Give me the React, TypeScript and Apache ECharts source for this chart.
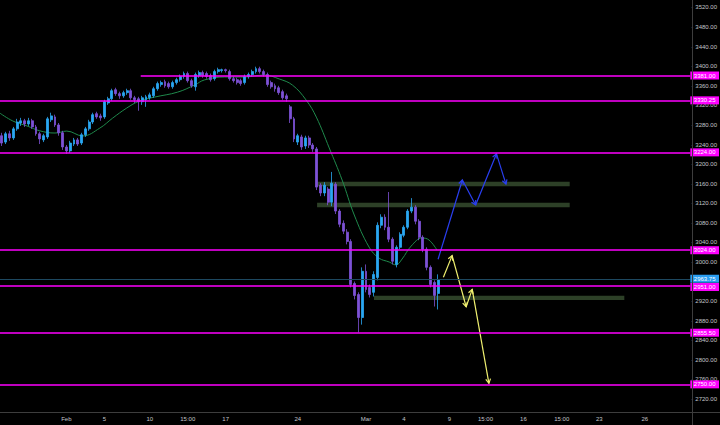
import React, { useEffect, useRef } from 'react';
import * as echarts from 'echarts';

// ---- data ----
const SLOT_COUNT = 182;
const slotNames: string[] = Array.from({ length: SLOT_COUNT }, (_, i) => String(i));

const tickSlots = [17, 27, 39, 49, 59, 78, 96, 106, 118, 127.5, 137.5, 147.6, 157.5, 169.5];
const tickLabels = ['Feb', '5', '10', '15:00', '17', '24', 'Mar', '4', '9', '15:00', '16', '15:00', '23', '26'];

// 2960 is hidden under the last-price box in the reference
const priceTicks = [2720, 2760, 2800, 2840, 2880, 2920, 3000, 3040, 3080, 3120, 3160, 3200, 3240, 3280, 3320, 3360, 3400, 3440, 3480, 3520];

// [open, close, low, high]
const candles: number[][] = [
  [3258, 3243, 3237, 3264], [3245, 3262, 3241, 3266], [3262, 3253.5, 3247.5, 3268], [3253.5, 3272, 3249.5, 3276],
  [3272, 3286, 3268, 3292.5], [3284, 3288.5, 3278, 3294.5], [3288.5, 3282, 3276, 3292.5], [3282, 3288.5, 3278, 3294.5],
  [3288.5, 3276, 3272, 3292.5], [3276, 3262, 3258, 3280], [3262, 3251.5, 3241, 3266], [3249.5, 3258, 3245, 3262],
  [3255.5, 3292.5, 3251.5, 3296.5], [3290.5, 3298.5, 3286, 3305], [3296.5, 3280, 3276, 3301], [3280, 3264, 3258, 3284],
  [3264, 3235, 3229, 3268], [3235, 3227, 3221, 3239], [3227, 3243, 3223, 3247.5], [3241, 3249.5, 3237, 3253.5],
  [3249.5, 3241, 3237, 3253.5], [3243, 3260, 3239, 3264], [3260, 3272, 3255.5, 3276], [3272, 3286, 3268, 3290.5],
  [3286, 3301, 3282, 3305], [3303, 3296.5, 3292.5, 3307], [3298.5, 3294.5, 3288.5, 3303], [3296.5, 3327.5, 3292.5, 3331.5],
  [3325, 3333.5, 3321, 3337.5], [3333.5, 3350, 3329.5, 3354], [3352, 3344, 3339.5, 3356], [3344, 3339.5, 3333.5, 3348],
  [3339.5, 3346, 3335.5, 3350], [3346, 3350, 3341.5, 3354], [3350, 3335.5, 3331.5, 3354], [3335.5, 3331.5, 3325, 3339.5],
  [3333.5, 3327.5, 3309, 3337.5], [3327.5, 3335.5, 3321, 3339.5], [3331.5, 3337.5, 3317, 3341.5], [3335.5, 3341.5, 3331.5, 3346],
  [3339.5, 3354, 3335.5, 3358], [3354, 3364.5, 3350, 3368.5], [3362.5, 3366.5, 3358, 3370.5], [3368.5, 3360, 3356, 3372.5],
  [3364.5, 3358, 3354, 3368.5], [3358, 3366.5, 3354, 3370.5], [3366.5, 3372.5, 3362.5, 3376.5], [3372.5, 3379, 3368.5, 3383],
  [3379, 3385, 3374.5, 3389], [3385, 3370.5, 3366.5, 3389], [3370.5, 3360, 3356, 3374.5], [3358, 3383, 3350, 3387],
  [3381, 3387, 3376.5, 3391], [3387, 3381, 3376.5, 3391], [3385, 3379, 3374.5, 3389], [3381, 3372.5, 3368.5, 3385],
  [3374.5, 3389, 3370.5, 3393], [3389, 3393, 3385, 3397], [3391, 3393, 3387, 3395], [3393, 3391, 3387, 3395],
  [3389, 3374.5, 3370.5, 3393], [3374.5, 3370.5, 3366.5, 3379], [3372.5, 3366.5, 3362.5, 3376.5], [3370.5, 3364.5, 3360, 3374.5],
  [3366.5, 3379, 3362.5, 3383], [3379, 3383, 3374.5, 3387], [3383, 3389, 3379, 3393], [3389, 3395, 3385, 3399],
  [3395, 3389, 3385, 3399], [3389, 3383, 3379, 3393], [3383, 3362.5, 3358, 3387], [3366.5, 3358, 3354, 3370.5],
  [3360, 3354, 3348, 3364.5], [3356, 3346, 3341.5, 3360], [3348, 3335.5, 3331.5, 3352], [3339.5, 3333.5, 3327.5, 3344],
  [3317, 3292.5, 3284, 3321], [3292.5, 3251.5, 3245, 3296.5], [3245, 3258, 3239, 3262], [3255.5, 3235, 3229, 3260],
  [3237, 3253.5, 3231, 3258], [3253.5, 3239, 3233, 3258], [3239, 3231, 3225, 3243], [3231, 3153, 3147, 3235],
  [3157, 3141, 3134.5, 3161], [3141, 3157, 3134.5, 3163], [3149, 3122, 3116, 3153], [3122, 3161, 3114, 3184],
  [3159, 3104, 3098, 3163], [3104, 3077, 3071, 3108], [3079, 3063, 3057, 3085], [3061, 3042, 3036, 3067],
  [3042, 2954, 2948, 3046.5], [2956, 2931.5, 2923.5, 2960], [2933.5, 2886.5, 2855.75, 2938], [2886.5, 2981, 2872, 2989],
  [2981, 2944, 2938, 2995], [2948, 2933.5, 2927.5, 2954], [2938, 2974.5, 2929.5, 2981], [2968.5, 3075, 2962.5, 3081],
  [3075, 3091.5, 3069, 3097.5], [3091.5, 3071, 3065, 3097.5], [3071, 3046.5, 3040.5, 3143], [3046.5, 3001.5, 2995, 3050.5],
  [2995, 3030, 2989, 3034], [3030, 3056.5, 3026, 3060.75], [3054.5, 3071, 3050.5, 3075], [3071, 3104, 3067, 3108],
  [3104, 3112, 3099.75, 3130.5], [3112, 3083.25, 3077, 3116], [3083.25, 3050.5, 3044.5, 3087.5], [3050.5, 3026, 3020, 3054.5],
  [3026, 2989, 2983, 3030], [2989, 2954, 2948, 2993], [2958.25, 2931.75, 2909, 2962.5], [2935.75, 2963.75, 2903, 2974.75],
];

// moving average: [slot, price]
const maPoints: number[][] = [
  [-0.5, 3304], [2.9, 3288], [6.6, 3278], [10, 3268], [14, 3263.5], [17.1, 3267.5], [21.3, 3257.5], [25.8, 3273.5],
  [29.2, 3294], [32.9, 3314.5], [36.3, 3329], [40.3, 3337], [46.3, 3347], [50.8, 3361.5], [53.4, 3372], [58.7, 3378],
  [63.9, 3378], [69.2, 3382], [73.1, 3374], [76.6, 3361.5], [80.2, 3331], [82.9, 3296], [86.3, 3233], [89.7, 3167.5],
  [92.9, 3096], [96.8, 3030.5], [99.4, 3008], [102.1, 3000], [103.9, 2994], [105.5, 3006], [107.9, 3032.5], [110.8, 3049],
  [112.6, 3045], [114.7, 3024.5],
];

const fullLevels = [3330.25, 3224, 3024, 2951, 2855.5, 2750];
const partialLevelStart = 36.6;
const partialLevelPrice = 3381;
const lastPrice = 2963.75;

// [slotStart, slotEnd, priceTop, priceBottom]
const zones: number[][] = [
  [83.1, 149.7, 3164, 3155],
  [83.1, 149.7, 3121, 3112],
  [98.1, 164.1, 2931, 2922.5],
];

const bluePath: number[][] = [[115.0, 3005.5], [121.4, 3167.5], [124.9, 3116.5], [130.4, 3221], [132.9, 3159]];
const yellowPath: number[][] = [[116.4, 2969], [118.7, 3013], [122.4, 2908.5], [124.0, 2944], [128.4, 2752]];

// ---- styles ----
const FONT = 'Liberation Sans, Arial, sans-serif';
const AXIS_TEXT = '#c3c5cb';
const MAGENTA = '#ff00ff';

function arrowPath(points: number[][], color: string) {
  return (params: any, api: any) => {
    const i = params.dataIndex;
    if (i === 0) return null;
    const a = api.coord(points[i - 1]);
    const b = api.coord(points[i]);
    const ang = Math.atan2(b[1] - a[1], b[0] - a[0]);
    const len = 5;
    const spread = 0.5;
    const l1 = [b[0] - len * Math.cos(ang - spread), b[1] - len * Math.sin(ang - spread)];
    const l2 = [b[0] - len * Math.cos(ang + spread), b[1] - len * Math.sin(ang + spread)];
    return {
      type: 'group',
      children: [
        { type: 'line', shape: { x1: a[0], y1: a[1], x2: b[0], y2: b[1] }, style: { stroke: color, lineWidth: 1.2 } },
        { type: 'polyline', shape: { points: [l1, b, l2] }, style: { stroke: color, fill: null, lineWidth: 1.2 } },
      ],
    };
  };
}

function boxLabel(text: string, bg: string, dy = 0) {
  return {
    show: true,
    position: 'end',
    distance: 0,
    offset: [0, dy],
    formatter: text,
    backgroundColor: bg,
    color: '#ffffff',
    fontSize: 6,
    fontFamily: FONT,
    lineHeight: 6,
    padding: [1, 3.5, 1, 3.5],
    align: 'left',
  };
}

export default function App() {
  const ref = useRef<HTMLDivElement>(null);

  useEffect(() => {
    document.body.style.margin = '0';
    document.body.style.background = '#000';
    if (!ref.current) return;
    const chart = echarts.init(ref.current, undefined, { renderer: 'svg' });

    const levelData: any[] = fullLevels.map((v) => ({
      yAxis: v,
      label: boxLabel(v.toFixed(2), MAGENTA, v === 2951 ? 1 : 0),
    }));
    levelData.push([
      { coord: [partialLevelStart, partialLevelPrice], label: boxLabel(partialLevelPrice.toFixed(2), MAGENTA) },
      { coord: [SLOT_COUNT - 0.5, partialLevelPrice], label: boxLabel(partialLevelPrice.toFixed(2), MAGENTA) },
    ]);
    levelData.push({
      yAxis: lastPrice,
      lineStyle: { color: '#1d4860', width: 1, type: 'solid' },
      label: boxLabel(lastPrice.toFixed(2), '#2a9df0', -1),
    });

    const option: any = {
      animation: false,
      backgroundColor: '#000000',
      grid: { left: 0, right: 28, top: 0, bottom: 13, containLabel: false },
      xAxis: [
        {
          type: 'category',
          data: slotNames,
          boundaryGap: true,
          axisLine: { show: false },
          axisTick: { show: false },
          axisLabel: { show: false },
          splitLine: { show: false },
        },
        {
          type: 'value',
          min: -0.5,
          max: SLOT_COUNT - 0.5,
          position: 'bottom',
          axisLine: { show: false },
          splitLine: { show: false },
          axisTick: { show: false },
          axisLabel: {
            show: true,
            customValues: tickSlots,
            margin: 4,
            color: AXIS_TEXT,
            fontSize: 6,
            fontFamily: FONT,
            formatter: (v: number) => {
              let best = 0;
              for (let k = 0; k < tickSlots.length; k++) {
                if (Math.abs(tickSlots[k] - v) < Math.abs(tickSlots[best] - v)) best = k;
              }
              return tickLabels[best];
            },
          },
        },
      ],
      yAxis: {
        type: 'value',
        position: 'right',
        min: 2693.5,
        max: 3535.3,
        axisLine: { show: false },
        splitLine: { show: false },
        axisTick: { show: false },
        axisLabel: {
          show: true,
          customValues: priceTicks,
          margin: 1,
          color: AXIS_TEXT,
          fontSize: 6,
          fontFamily: FONT,
          formatter: (v: number) => '{t|-}' + v.toFixed(2),
          rich: {
            t: { color: '#707070', fontSize: 6, fontFamily: FONT, padding: [0, 2, 0, 0] },
          },
        },
      },
      graphic: [
        { type: 'line', z: 50, shape: { x1: 692.5, y1: 0, x2: 692.5, y2: 425 }, style: { stroke: '#3d3d3d', lineWidth: 1 } },
        { type: 'line', z: 50, shape: { x1: 0, y1: 412.5, x2: 720, y2: 412.5 }, style: { stroke: '#3d3d3d', lineWidth: 1 } },
      ],
      series: [
        {
          type: 'custom',
          name: 'zones',
          xAxisIndex: 1,
          z: 1,
          silent: true,
          data: zones,
          encode: { x: [0, 1], y: [2, 3] },
          renderItem: (params: any, api: any) => {
            const p0 = api.coord([api.value(0), api.value(2)]);
            const p1 = api.coord([api.value(1), api.value(3)]);
            return {
              type: 'rect',
              shape: { x: p0[0], y: p0[1], width: p1[0] - p0[0], height: p1[1] - p0[1] },
              style: { fill: '#2d4027' },
            };
          },
        },
        {
          type: 'line',
          name: 'MA',
          xAxisIndex: 1,
          z: 2,
          data: maPoints,
          smooth: 0.4,
          symbol: 'none',
          lineStyle: { color: '#1f8a4c', width: 1 },
          markLine: {
            silent: true,
            symbol: ['none', 'none'],
            animation: false,
            lineStyle: { color: MAGENTA, width: 1.5, type: 'solid' },
            data: levelData,
          },
        },
        {
          type: 'candlestick',
          name: 'ES',
          xAxisIndex: 0,
          z: 3,
          data: candles,
          barWidth: 2.4,
          itemStyle: {
            color: '#2aa7f2',
            color0: '#7d52d6',
            borderColor: '#2aa7f2',
            borderColor0: '#7d52d6',
            borderWidth: 0.8,
          },
        },
        {
          type: 'custom',
          name: 'bluePath',
          xAxisIndex: 1,
          z: 4,
          silent: true,
          data: bluePath,
          encode: { x: 0, y: 1 },
          renderItem: arrowPath(bluePath, '#2a3ff2'),
        },
        {
          type: 'custom',
          name: 'yellowPath',
          xAxisIndex: 1,
          z: 4,
          silent: true,
          data: yellowPath,
          encode: { x: 0, y: 1 },
          renderItem: arrowPath(yellowPath, '#f0f070'),
        },
      ],
    };
    chart.setOption(option);
    return () => chart.dispose();
  }, []);

  return <div ref={ref} style={{ width: 720, height: 425, background: '#000' }} />;
}
